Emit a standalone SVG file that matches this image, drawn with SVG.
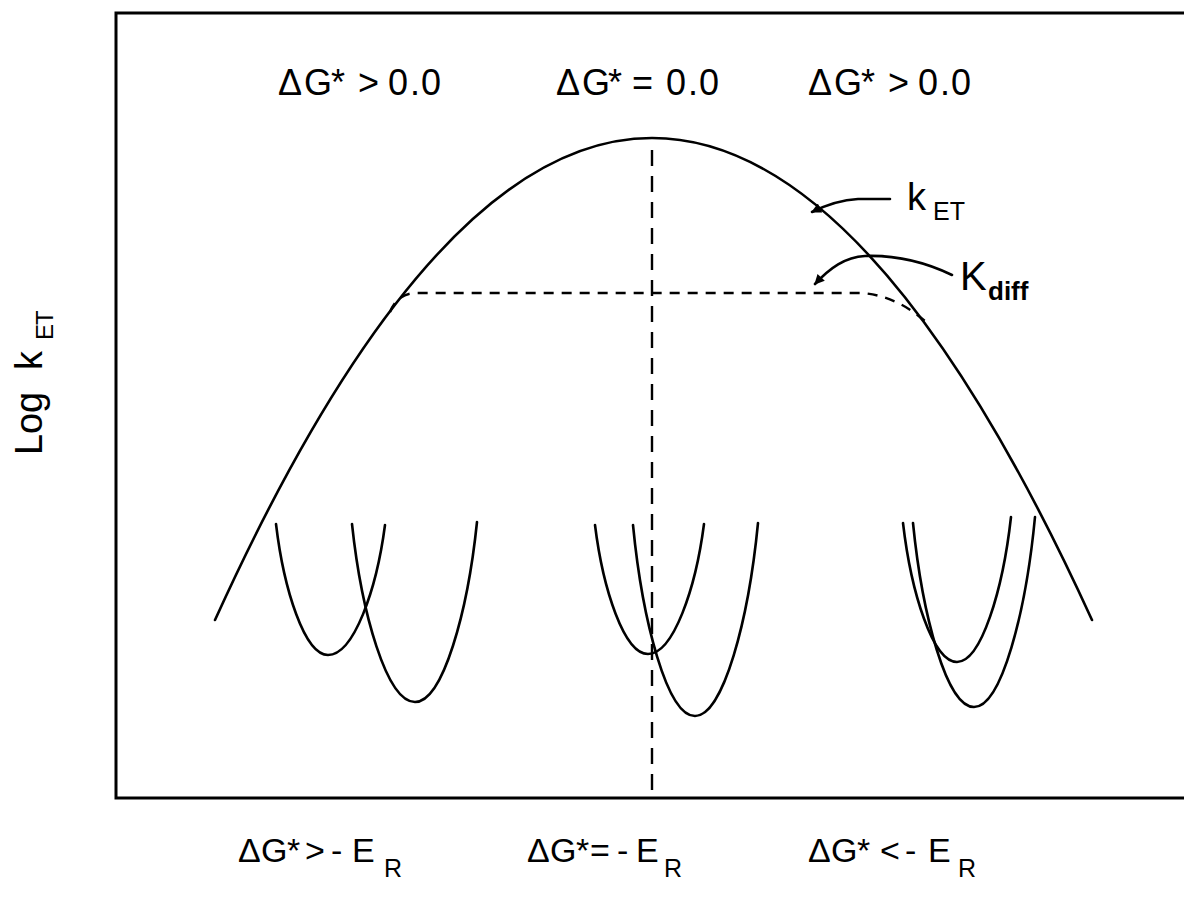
<svg xmlns="http://www.w3.org/2000/svg" width="1184" height="907" viewBox="0 0 1184 907">
<style>
.ln{fill:none;stroke:#000;stroke-width:2.6;stroke-linecap:round;stroke-linejoin:round}
.dash{fill:none;stroke:#000;stroke-width:2.4}
.t{font-family:"Liberation Sans",Arial,sans-serif;fill:#000}
</style>
<defs>
<marker id="ah" viewBox="0 0 10 10" refX="9" refY="5" markerWidth="12" markerHeight="10" markerUnits="userSpaceOnUse" orient="auto">
<path d="M0,0 L10,5 L0,10 z" fill="#000"/>
</marker>
</defs>
<rect width="1184" height="907" fill="#fff"/>
<g id="frame">
<rect x="116" y="13" width="1100" height="785" fill="none" stroke="#000" stroke-width="3"/>
</g>
<g id="connectors">
<path id="kET-curve" class="ln" d="M215,620 Q433.5,138 652,138 Q872,138 1092,620"/>
<path id="kdiff-curve" class="dash" stroke-dasharray="10 8" d="M390,312 Q397,294 415,293 L862,293 Q897,296 926,322"/>
<path id="center-line" class="dash" stroke-dasharray="16 10" d="M652,150 L652,797"/>
<path id="arrow-kET" class="ln" stroke-width="2.2" marker-end="url(#ah)" d="M890,199 L858,199 C840,200 826,205 812,212"/>
<path id="arrow-kdiff" class="ln" stroke-width="2.2" marker-end="url(#ah)" d="M952,275 C925,262 895,255 865,256 C845,257 830,268 815,284"/>
</g>
<g id="well-left">
<path class="ln" d="M276,524 C283.8,589.5 304.6,655 328,655 C353.7,655 376.5,590 385,525"/>
<path class="ln" d="M352,524 C361.5,613 386.7,702 415,702 C442.9,702 467.7,612 477,522"/>
</g>
<g id="well-center">
<path class="ln" d="M595,525 C603,589.5 624.2,654 648,654 C673.2,654 695.6,589 704,524"/>
<path class="ln" d="M633,525 C642.3,620.5 667.1,716 695,716 C723.4,716 748.6,619.5 758,523"/>
</g>
<g id="well-right">
<path class="ln" d="M903,523 C911.1,592.5 932.7,662 957,662 C981.3,662 1002.9,589.5 1011,517"/>
<path class="ln" d="M913,523 C922.2,615 946.6,707 974,707 C1001.5,707 1025.9,612 1035,517"/>
</g>
<g id="top-labels" class="t" font-size="36">
<text x="278 304 331 345 358 380 388 410 421" y="95">ΔG* &gt; 0.0</text>
<text x="556 582 608 632 666 688 699" y="95">ΔG*=0.0</text>
<text x="808 834 861 875 888 910 918 940 951" y="95">ΔG* &gt; 0.0</text>
</g>
<g id="bottom-labels" class="t" font-size="34">
<text y="862"><tspan x="238 261 287 297 305 322 331 343 352">ΔG* &gt; - E</tspan><tspan x="384" y="877" font-size="25">R</tspan></text>
<text y="862"><tspan x="527 550 576 590 617 636">ΔG*=-E</tspan><tspan x="664" y="877" font-size="25">R</tspan></text>
<text y="862"><tspan x="808 831 857 870 880 898 905 918 928">ΔG* &lt; - E</tspan><tspan x="958" y="877" font-size="25">R</tspan></text>
</g>
<g id="label-kET" class="t">
<text x="907" y="210" font-size="38">k</text>
<text x="933" y="220" font-size="25">ET</text>
</g>
<g id="label-kdiff" class="t">
<text x="960" y="290" font-size="40">K</text>
<text x="988" y="300" font-size="26" font-weight="bold">diff</text>
</g>
<g id="axis-label" class="t">
<text transform="translate(42,455) rotate(-90)" font-size="38"><tspan x="0 21 42 62 85">Log k</tspan><tspan x="115 130" dy="11" font-size="24">ET</tspan></text>
</g>
</svg>
